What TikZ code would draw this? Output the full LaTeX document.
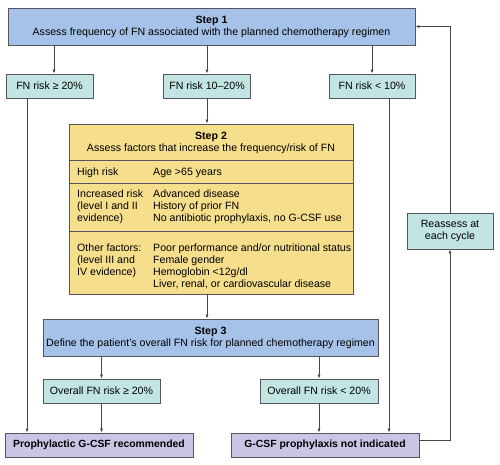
\documentclass[tikz,border=0pt]{standalone}
\usepackage{fontspec}
\setmainfont{Liberation Sans}
\usepackage{xcolor}
\definecolor{stepblue}{RGB}{166,194,232}
\definecolor{riskteal}{RGB}{194,229,228}
\definecolor{factoryellow}{RGB}{245,222,140}
\definecolor{outpurple}{RGB}{201,197,228}
\definecolor{bordercol}{RGB}{85,85,95}
\definecolor{linecol}{RGB}{70,70,70}
\usetikzlibrary{arrows.meta}

\begin{document}
\begin{tikzpicture}[x=1pt, y=-1pt, font=\fontsize{10.6}{12}\selectfont, >={Latex[length=4pt,width=3pt]},
  box/.style={draw=bordercol, line width=0.8pt, inner sep=2pt, align=center},
  stepbox/.style={box, fill=stepblue, minimum height=37pt},
  risk/.style={box, fill=riskteal, minimum height=24pt},
  outcome/.style={box, fill=outpurple, minimum height=24pt, font=\fontsize{10.4}{12}\selectfont\bfseries},
  lab/.style={anchor=north west, inner sep=0pt, align=left},
  divider/.style={draw=bordercol, line width=0.6pt},
  arr/.style={->, draw=linecol, line width=0.7pt}]

  \useasboundingbox[fill=white] (0,0) rectangle (500,464);

  % step 1 and first risk split
  \node[stepbox, minimum width=407pt] (step1) at (211.5,26.5) {\textbf{Step 1}\\Assess frequency of FN associated with the planned chemotherapy regimen};
  \node[risk, minimum width=87pt] (r1) at (49.5,86) {FN risk ≥ 20\%};
  \node[risk, minimum width=87pt] (r2) at (207,86) {FN risk 10–20\%};
  \node[risk, minimum width=86pt] (r3) at (372,86) {FN risk < 10\%};

  % step 2: table of risk factors
  \node[box, fill=factoryellow, minimum width=284pt, minimum height=170pt] (step2) at (211,209) {};
  \node[align=center, inner sep=0pt] (s2head) at (211,143) {\textbf{Step 2}\\Assess factors that increase the frequency/risk of FN};
  \draw[divider] (step2.west |- 0,160) -- (step2.east |- 0,160);
  \draw[divider] (step2.west |- 0,183) -- (step2.east |- 0,183);
  \draw[divider] (step2.west |- 0,231) -- (step2.east |- 0,231);
  \node[lab] (hilab) at (77,168) {High risk};
  \node[lab] (hitxt) at (153,168) {Age >65 years};
  \node[lab] (inclab) at (77,189.5) {Increased risk\\(level I and II\\evidence)};
  \node[lab] (inctxt) at (153,189.5) {Advanced disease\\History of prior FN\\No antibiotic prophylaxis, no G-CSF use};
  \node[lab] (othlab) at (77,243.5) {Other factors:\\(level III and\\IV evidence)};
  \node[lab] (othtxt) at (153,243.5) {Poor performance and/or nutritional status\\Female gender\\Hemoglobin <12g/dl\\Liver, renal, or cardiovascular disease};

  % step 3 and outcomes
  \node[stepbox, minimum width=335pt] (step3) at (210.5,337.5) {\textbf{Step 3}\\Define the patient's overall FN risk for planned chemotherapy regimen};
  \node[risk, minimum width=117pt] (o1) at (101.5,391) {Overall FN risk ≥ 20\%};
  \node[risk, minimum width=118pt] (o2) at (319,391) {Overall FN risk < 20\%};
  \node[outcome, minimum width=188pt] (g1) at (99,445) {Prophylactic G-CSF recommended};
  \node[outcome, minimum width=188pt] (g2) at (325,445) {G-CSF prophylaxis not indicated};
  \node[risk, minimum width=86pt, minimum height=36pt] (re) at (450,231) {Reassess at\\each cycle};

  \draw[arr] (step1.south -| 54,0) -- (r1.north -| 54,0);
  \draw[arr] (step1.south -| r2.north) -- (r2.north);
  \draw[arr] (step1.south -| r3.north) -- (r3.north);
  \draw[arr] (r2.south) -- (step2.north -| r2.south);
  \draw[arr] (step2.south -| r2.south) -- (step3.north -| r2.south);
  \draw[arr] (step3.south -| o1.north) -- (o1.north);
  \draw[arr] (step3.south -| o2.north) -- (o2.north);
  \draw[arr] (o1.south) -- (g1.north -| o1.south);
  \draw[arr] (o2.south) -- (g2.north -| o2.south);
  \draw[arr] (r1.south -| 27,0) -- (g1.north -| 27,0);
  \draw[arr] (r3.south -| 389,0) -- (g2.north -| 389,0);
  % loop back to step 1
  \draw[arr] ([yshift=5pt]g2.east) -| (re.south);
  \draw[arr] (re.north) |- (step1.east);
\end{tikzpicture}
\end{document}
